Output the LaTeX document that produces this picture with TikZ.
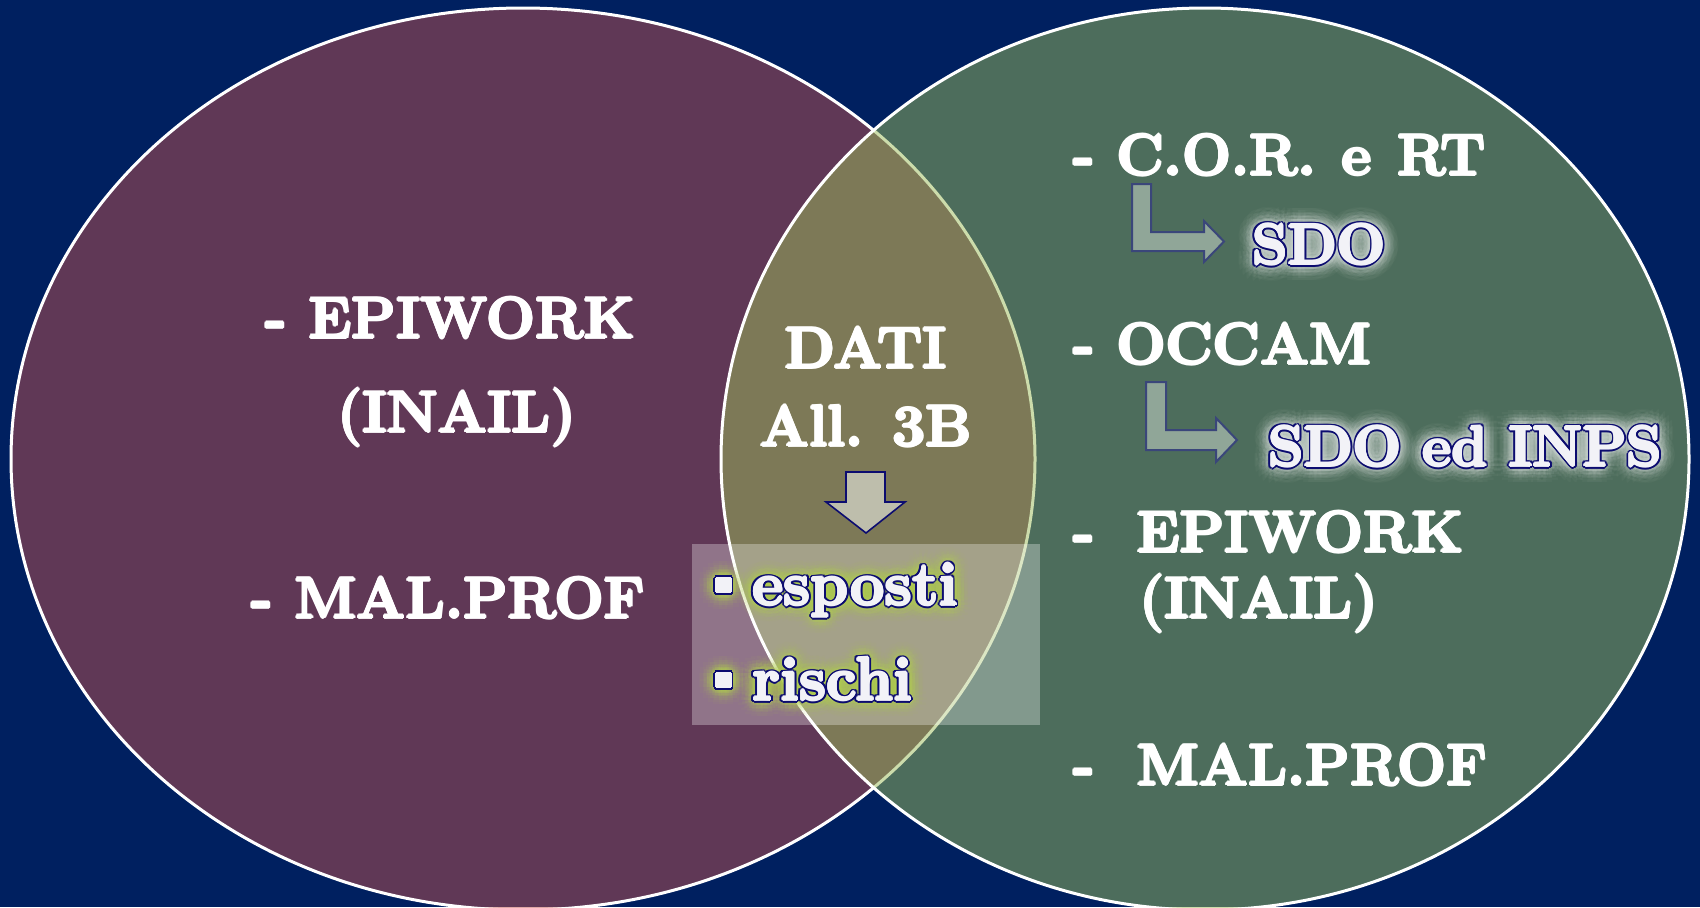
\documentclass[tikz,border=0pt]{standalone}
\usepackage{tikz}
\usetikzlibrary{positioning}

\definecolor{slidebg}{RGB}{0,32,96}
\definecolor{setred}{RGB}{192,80,77}
\definecolor{setgreen}{RGB}{155,187,89}
\definecolor{inknavy}{RGB}{12,12,112}
\definecolor{elbowfill}{RGB}{144,166,152}
\definecolor{elbowline}{RGB}{58,70,122}
\definecolor{downfill}{RGB}{190,190,172}
\definecolor{letterfill}{RGB}{242,242,247}
\definecolor{halogrey}{RGB}{212,220,216}
\definecolor{halolime}{RGB}{180,210,80}

% heavier strokes: the word laid down nine times, a hair apart
\newcommand{\fatten}[1]{%
  \rlap{\hspace{0.6pt}#1}\rlap{\hspace{-0.6pt}#1}%
  \rlap{\raisebox{0.6pt}{#1}}\rlap{\raisebox{-0.6pt}{#1}}%
  \rlap{\hspace{0.42pt}\raisebox{0.42pt}{#1}}\rlap{\hspace{-0.42pt}\raisebox{0.42pt}{#1}}%
  \rlap{\hspace{0.42pt}\raisebox{-0.42pt}{#1}}\rlap{\hspace{-0.42pt}\raisebox{-0.42pt}{#1}}#1}

\tikzset{
  item/.style={text=white, font=\fontsize{29}{34}\selectfont\bfseries, inner sep=0pt, anchor=base west},
  glowfont/.style={font=\fontsize{28.5}{34}\selectfont\bfseries, inner sep=0pt, anchor=base west},
  bent/.style={fill=elbowfill, draw=elbowline, line width=1pt, line join=miter},
}

% glowing word with a navy rim: [options]{name}{coordinate}{glow colour}{text}
\newcommand{\glowtext}[5][]{%
  \foreach \r/\op in {17/0.04, 13/0.06, 9.5/0.09, 6/0.13}
    \foreach \a in {0,20,...,340}
      \node[glowfont, #1, text=#4, text opacity=\op] at ([shift={(\a:\r)}]#3) {#5};
  \foreach \a in {0,30,...,330}
    \node[glowfont, #1, text=inknavy] at ([shift={(\a:3)}]#3) {#5};
  \node[glowfont, #1, text=letterfill] (#2) at (#3) {\fatten{#5}};
}

\begin{document}
\begin{tikzpicture}[x=0.5pt, y=-0.5pt]
	\useasboundingbox (0,0) rectangle (1700,907);
	\clip (0,0) rectangle (1700,907);
	\fill[slidebg] (0,0) rectangle (1700,907);

	% the two sets
	\draw[white, line width=1.5pt, fill=setred, fill opacity=0.5] (523,459) ellipse [x radius=512, y radius=451];
	\draw[white, line width=1.5pt, fill=setgreen, fill opacity=0.5] (1205,459) ellipse [x radius=484, y radius=451];

	\fill[white, fill opacity=0.3] (692,544) rectangle (1040,725);

	% arrows
	\draw[fill=downfill, draw=inknavy, line width=0.8pt] (846,472) -- (885,472) -- (885,502) -- (905,502)
		-- (866,533) -- (826,502) -- (846,502) -- cycle;
	\draw[bent] (1132,184) -- (1151,184) -- (1151,232) -- (1204,232) -- (1204,221) -- (1224,241.5)
		-- (1204,262) -- (1204,251) -- (1132,251) -- cycle;
	\draw[bent] (1146,382) -- (1166,382) -- (1166,430) -- (1216,430) -- (1216,418) -- (1237,440)
		-- (1216,462) -- (1216,450) -- (1146,450) -- cycle;

	% left set
	\node[item] (epiL) at (265,338) {\fatten{- EPIWORK}};
	\node[item] (inailL) at (337,432) {\fatten{(INAIL)}};
	\node[item] (malL) at (251,618) {\fatten{- MAL.PROF}};

	% intersection
	\node[item, anchor=base] (dati) at (866,368) {\fatten{DATI}};
	\node[item, anchor=base] (all3b) at (866,446) {\fatten{All. 3B}};

	\coordinate (espoPos) at (716,605);
	\coordinate (riscPos) at (716,700);
	\glowtext[font=\fontsize{30.5}{34}\selectfont\bfseries]{esposti}{espoPos}{halolime}{\rule[6.5pt]{7pt}{7pt}\hspace{11pt}esposti}
	\glowtext[font=\fontsize{30.5}{34}\selectfont\bfseries]{rischi}{riscPos}{halolime}{\rule[6.5pt]{7pt}{7pt}\hspace{11pt}rischi}

	% right set
	\node[item] (cor) at (1073,175) {\fatten{- C.O.R.\kern2pt\ e\kern2pt\ RT}};
	\node[item] (occam) at (1073,364) {\fatten{- OCCAM}};
	\node[item] (epiR) at (1073,552) {\fatten{-\hspace{21pt}EPIWORK}};
	\node[item] (inailR) at (1139,618) {\fatten{(INAIL)}};
	\node[item] (malR) at (1073,785) {\fatten{-\hspace{21pt}MAL.PROF}};

	\coordinate (sdoPos) at (1252,264);
	\coordinate (inpsPos) at (1268,466);
	\glowtext{sdo}{sdoPos}{halogrey}{SDO}
	\glowtext{sdoinps}{inpsPos}{halogrey}{SDO ed INPS}
\end{tikzpicture}
\end{document}
